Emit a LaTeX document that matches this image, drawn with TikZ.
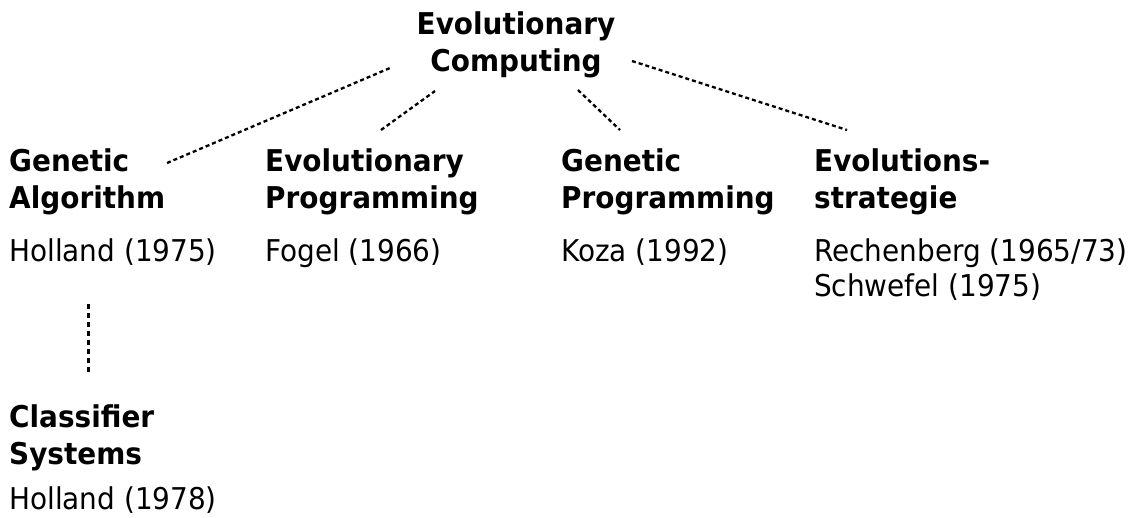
\documentclass[tikz,border=0pt]{standalone}
\usepackage{fontspec}
\setmainfont{DejaVu Sans}[FakeStretch=0.93]
\begin{document}
\begin{tikzpicture}[x=1pt,y=-1pt]
\tikzset{
  head/.style={anchor=base west, inner sep=0pt, font=\bfseries\fontsize{30}{37}\selectfont},
  refs/.style={anchor=base west, inner sep=0pt, font=\fontsize{30}{35}\selectfont},
  link/.style={line width=2.3pt, dash pattern=on 4pt off 3pt},
  vlink/.style={line width=3pt, dash pattern=on 5pt off 4pt}
}
\useasboundingbox (0,0) rectangle (1134,517);
% title
\node[head, anchor=base] (ec) at (516,34) {\begin{tabular}[t]{@{}c@{}}Evolutionary\\Computing\end{tabular}};
% columns
\node[head] (ga) at (9,171) {\begin{tabular}[t]{@{}l@{}}Genetic\\Algorithm\end{tabular}};
\node[refs] (gar) at (9,261) {\begin{tabular}[t]{@{}l@{}}Holland (1975)\end{tabular}};
\node[head] (ep) at (265,171) {\begin{tabular}[t]{@{}l@{}}Evolutionary\\Programming\end{tabular}};
\node[refs] (epr) at (265,261) {\begin{tabular}[t]{@{}l@{}}Fogel (1966)\end{tabular}};
\node[head] (gp) at (561,171) {\begin{tabular}[t]{@{}l@{}}Genetic\\Programming\end{tabular}};
\node[refs] (gpr) at (561,261) {\begin{tabular}[t]{@{}l@{}}Koza (1992)\end{tabular}};
\node[head] (es) at (814,171) {\begin{tabular}[t]{@{}l@{}}Evolutions-\\strategie\end{tabular}};
\node[refs] (esr) at (814,261) {\begin{tabular}[t]{@{}l@{}}Rechenberg (1965/73)\\Schwefel (1975)\end{tabular}};
\node[head] (cs) at (9,427) {\begin{tabular}[t]{@{}l@{}}Classifier\\Systems\end{tabular}};
\node[refs] (csr) at (9,509) {\begin{tabular}[t]{@{}l@{}}Holland (1978)\end{tabular}};
% connector ends
\coordinate (ec-ga) at (390,68);
\coordinate (ga-ec) at (167,163);
\coordinate (ec-ep) at (435,91);
\coordinate (ep-ec) at (381,130);
\coordinate (ec-gp) at (578,90);
\coordinate (gp-ec) at (620,130);
\coordinate (ec-es) at (632,61);
\coordinate (es-ec) at (847,130);
\coordinate (gar-cs) at (88.5,304);
\coordinate (cs-gar) at (88.5,372);
\draw[link] (ga-ec) -- (ec-ga);
\draw[link] (ep-ec) -- (ec-ep);
\draw[link] (ec-gp) -- (gp-ec);
\draw[link] (ec-es) -- (es-ec);
\draw[vlink] (gar-cs) -- (cs-gar);
\end{tikzpicture}
\end{document}
